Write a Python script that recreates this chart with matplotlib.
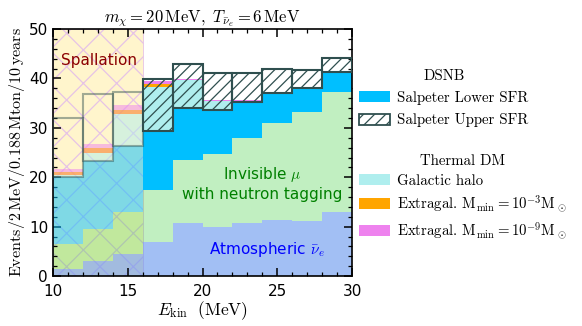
import matplotlib
matplotlib.use('Agg')
import matplotlib.pyplot as plt
import matplotlib.patches as mpatches
import numpy as np

# bins of 2 MeV in kinetic energy
bin_left = [10, 12, 14, 16, 18, 20, 22, 24, 26, 28]
atmospheric = [1.5, 3.0, 4.5, 6.9, 10.7, 10.0, 10.7, 11.3, 11.2, 12.9]
invisible_mu = [5.1, 6.6, 8.5, 10.5, 12.8, 14.8, 17.2, 19.7, 22.1, 24.3]
dsnb_lower = [13.5, 13.7, 13.3, 12.0, 10.6, 8.8, 7.4, 6.0, 4.8, 4.2]
dsnb_upper = [25.3, 27.2, 24.2, 22.5, 19.5, 16.2, 13.1, 10.9, 8.4, 7.0]
galactic_halo = [0.3, 1.7, 6.5, 8.9, 5.5, 1.8, 0.2, 0.1, 0.05, 0.02]
extragal_1e3 = [0.7, 1.0, 0.9, 0.6, 0.1, 0.05, 0.02, 0.01, 0.005, 0.0]
extragal_1e9 = [1.2, 1.7, 1.8, 1.2, 0.35, 0.2, 0.07, 0.04, 0.02, 0.01]
spallation_end = 16

plt.rcParams['mathtext.fontset'] = 'cm'
plt.rcParams['hatch.linewidth'] = 0.9

fig = plt.figure(figsize=(5.82, 3.26), dpi=100)
ax = fig.add_axes([0.091, 0.153, 0.514, 0.758])

x = np.array(bin_left, dtype=float)
w = 2.0
spal = x < spallation_end
a_dm = np.where(spal, 0.5, 1.0)

atm = np.array(atmospheric)
inv = np.array(invisible_mu)
low = np.array(dsnb_lower)
up = np.array(dsnb_upper)
halo = np.array(galactic_halo)
e3 = np.array(extragal_1e3)
e9 = np.array(extragal_1e9)

# spallation region in the background
ax.axvspan(10, spallation_end, facecolor='#FFF5CC', edgecolor='#E6C3E6',
           hatch='x', linewidth=0.6, zorder=0)

# backgrounds
ax.bar(x, atm, width=w, align='edge', color='cornflowerblue', alpha=0.6,
       linewidth=0, zorder=1)
ax.bar(x, inv, width=w, bottom=atm, align='edge', color='limegreen', alpha=0.3,
       linewidth=0, zorder=1)

base = atm + inv
for i in range(len(x)):
    a = a_dm[i]
    ax.bar(x[i], low[i], width=w, bottom=base[i], align='edge',
           color='deepskyblue', alpha=a, linewidth=0, zorder=2)
    top = base[i] + low[i]
    ax.bar(x[i], halo[i], width=w, bottom=top, align='edge',
           color='paleturquoise', alpha=a, linewidth=0, zorder=2)
    top = top + halo[i]
    ax.bar(x[i], e9[i], width=w, bottom=top, align='edge',
           color='violet', alpha=a, linewidth=0, zorder=2)
    ax.bar(x[i], e3[i], width=w, bottom=top, align='edge',
           color='orange', alpha=a, linewidth=0, zorder=2)
    # upper SFR box
    if spal[i]:
        ax.bar(x[i], up[i] - low[i], width=w, bottom=base[i] + low[i],
               align='edge', facecolor='none', edgecolor='darkslategray',
               alpha=0.45, linewidth=1.5, zorder=3)
    else:
        ax.bar(x[i], up[i] - low[i], width=w, bottom=base[i] + low[i],
               align='edge', facecolor='none', edgecolor='darkslategray',
               hatch='///', linewidth=1.5, zorder=3)

ax.text(13.1, 43.7, 'Spallation', color='darkred', fontsize=11,
        ha='center', va='center', zorder=5)
ax.text(24.0, 18.8, 'Invisible $\\mu$\nwith neutron tagging', color='green',
        fontsize=11, ha='center', va='center', multialignment='center',
        linespacing=1.25, zorder=5)
ax.text(24.3, 5.4, 'Atmospheric $\\bar{\\nu}_e$', color='blue', fontsize=11,
        ha='center', va='center', zorder=5)

ax.set_xlim(10, 30)
ax.set_ylim(0, 50)
ax.set_xticks([10, 15, 20, 25, 30])
ax.set_xticks(np.arange(10, 31, 1), minor=True)
ax.set_yticks([0, 10, 20, 30, 40, 50])
ax.set_yticks(np.arange(0, 51, 2), minor=True)
ax.tick_params(which='both', direction='in', top=True, right=True,
               labelsize=11)
ax.tick_params(axis='x', pad=6)
ax.tick_params(which='major', length=6, width=1.1)
ax.tick_params(which='minor', length=3, width=0.9)
for s in ax.spines.values():
    s.set_linewidth(1.2)

ax.set_xlabel(r'$E_\mathrm{kin}\ \ \mathrm{(MeV)}$', fontsize=12.5, labelpad=0)
ax.set_ylabel(r'$\mathrm{Events/2\,MeV/0.188\,Mton/10\,years}$', fontsize=11.6,
              labelpad=1)
ax.set_title(r'$m_\chi=20\,\mathrm{MeV},\ T_{\bar{\nu}_e}=6\,\mathrm{MeV}$',
             fontsize=12, pad=5)

lprop = {'family': 'cmr10', 'size': 10.7}
h1 = [mpatches.Patch(facecolor='deepskyblue', linewidth=0),
      mpatches.Patch(facecolor='white', edgecolor='darkslategray', hatch='///',
                     linewidth=1.3)]
l1 = ['Salpeter Lower SFR', 'Salpeter Upper SFR']
leg1 = fig.legend(h1, l1, loc='upper left', bbox_to_anchor=(0.607, 0.806),
                  frameon=False, prop=lprop, title='DSNB',
                  title_fontproperties=lprop, handlelength=2.1,
                  handleheight=0.75, handletextpad=0.45, labelspacing=0.55,
                  borderaxespad=0)
h2 = [mpatches.Patch(facecolor='paleturquoise', linewidth=0),
      mpatches.Patch(facecolor='orange', linewidth=0),
      mpatches.Patch(facecolor='violet', linewidth=0)]
l2 = ['Galactic halo',
      r'Extragal. $\mathrm{M_{min}=10^{-3}M_\odot}$',
      r'Extragal. $\mathrm{M_{min}=10^{-9}M_\odot}$']
leg2 = fig.legend(h2, l2, loc='upper left', bbox_to_anchor=(0.607, 0.546),
                  frameon=False, prop=lprop, title='Thermal DM',
                  title_fontproperties=lprop, handlelength=2.1,
                  handleheight=0.75, handletextpad=0.45, labelspacing=0.42,
                  borderaxespad=0)

fig.savefig('out.png', dpi=100)
